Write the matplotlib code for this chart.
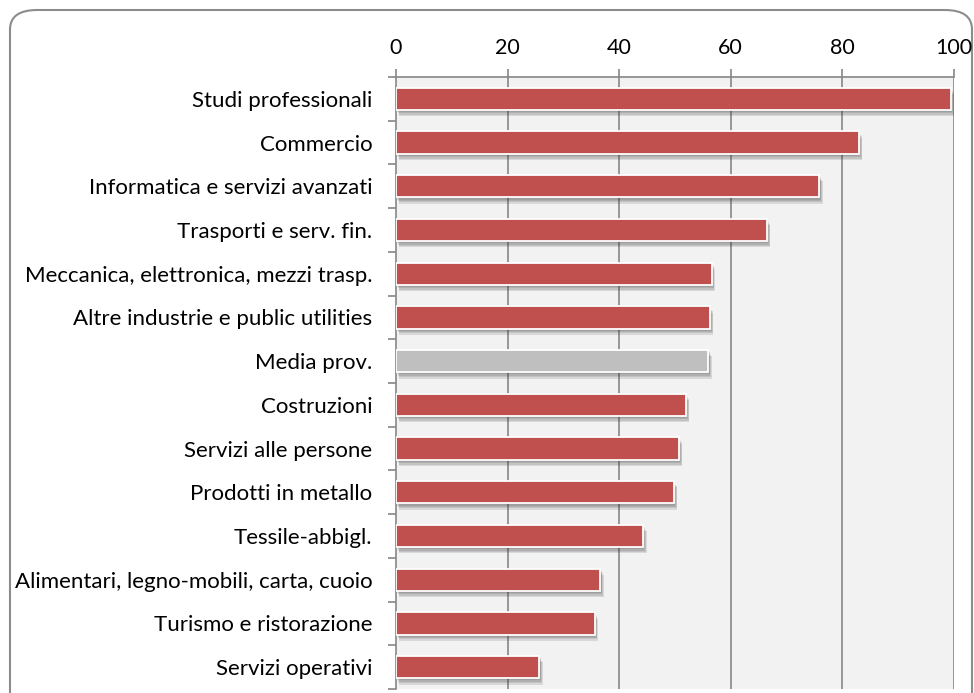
import numpy as np
import matplotlib
matplotlib.use("Agg")
from matplotlib import pyplot as plt
from matplotlib.patches import FancyBboxPatch
import matplotlib.patheffects as pe

categories = [
    "Studi professionali",
    "Commercio",
    "Informatica e servizi avanzati",
    "Trasporti e serv. fin.",
    "Meccanica, elettronica, mezzi trasp.",
    "Altre industrie e public utilities",
    "Media prov.",
    "Costruzioni",
    "Servizi alle persone",
    "Prodotti in metallo",
    "Tessile-abbigl.",
    "Alimentari, legno-mobili, carta, cuoio",
    "Turismo e ristorazione",
    "Servizi operativi",
]
values = [99.5, 83.0, 75.9, 66.5, 56.6, 56.3, 56.0, 52.0, 50.7, 49.8, 44.3, 36.6, 35.6, 25.7]
highlight = "Media prov."
x_ticks = [0, 20, 40, 60, 80, 100]

plt.rcParams['font.family'] = ['Lato', 'DejaVu Sans']

W, H = 974, 693
fig = plt.figure(figsize=(W / 100, H / 100), dpi=100)

# rounded frame around the chart (bottom runs off the image)
frame = FancyBboxPatch((10 / W, -40 / H), 962 / W, (H - 10 + 40) / H,
                       boxstyle="round,pad=0,rounding_size=0.028",
                       transform=fig.transFigure, facecolor="white",
                       edgecolor="#8c8c8c", linewidth=1.5, zorder=-5)
fig.patches.append(frame)

top, bottom = 77, 689
ax = fig.add_axes([396 / W, 1 - bottom / H, (953.7 - 396) / W, (bottom - top) / H])
ax.set_facecolor("#f2f2f2")

n = len(categories)
y = np.arange(n)
colors = ["#bfbfbf" if c == highlight else "#c0504d" for c in categories]
bars = ax.barh(y, values, height=0.51, color=colors, edgecolor="white",
               linewidth=1.3, zorder=3)
# soft shadow: a few stacked offset copies
shadow = [pe.SimplePatchShadow(offset=off, shadow_rgbFace="#404040", alpha=0.14)
          for off in [(1, -1.5), (1.5, -2.5), (2, -3.5), (2.5, -4.5)]]
for b in bars:
    b.set_path_effects(shadow + [pe.Normal()])

ax.set_xlim(0, 100)
ax.set_ylim(n - 0.5, -0.5)
ax.xaxis.tick_top()
ax.set_xticks(x_ticks)
ax.set_xticklabels([str(t) for t in x_ticks], fontsize=15.5)
ax.tick_params(axis="x", which="major", length=6, width=1.2, color="#868686",
               pad=8, direction="out")
for t in x_ticks[1:]:
    ax.axvline(t, color="#868686", linewidth=1.2, zorder=1)

ax.set_yticks(y)
ax.set_yticklabels(categories, fontsize=16)
ax.set_yticks(np.arange(-0.5, n, 1.0), minor=True)
ax.tick_params(axis="y", which="major", length=0, pad=17)
ax.tick_params(axis="y", which="minor", length=6, width=1.2, color="#868686", direction="out")

for side in ["right", "bottom"]:
    ax.spines[side].set_visible(False)
for side in ["left", "top"]:
    ax.spines[side].set_color("#868686")
    ax.spines[side].set_linewidth(1.2)

fig.savefig("out.png", dpi=100)
